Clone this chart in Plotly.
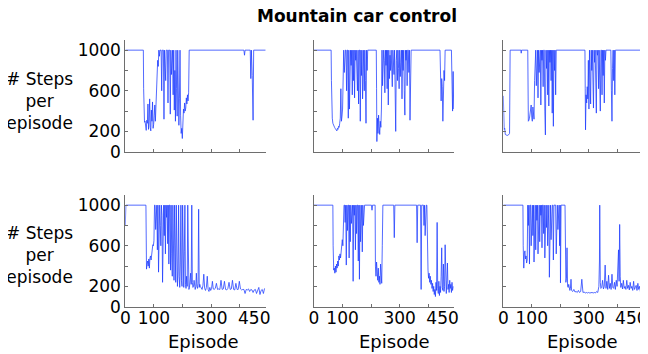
import plotly.graph_objects as go

# Episode / steps-per-episode readings for the six runs
a_ep = [0, 63, 64, 65, 67, 69, 71, 73, 75, 77,
        79, 81, 83, 85, 87, 89, 91, 93, 95, 97,
        99, 101, 103, 105, 107, 109, 111, 113, 115, 117,
        119, 121, 125, 127, 129, 133, 135, 137, 141, 143,
        147, 149, 151, 155, 157, 159, 161, 163, 165, 167,
        169, 171, 173, 175, 177, 179, 181, 183, 185, 187,
        189, 191, 193, 195, 197, 199, 201, 203, 205, 207,
        209, 211, 213, 215, 217, 219, 221, 223, 414, 416,
        418, 436, 438, 440, 443, 446, 448, 490]
a_steps = [1000, 1000, 620, 320, 290, 300, 270, 210, 310, 280,
           470, 220, 300, 520, 240, 205, 410, 300, 490, 230,
           270, 360, 460, 300, 500, 480, 780, 900, 840, 1000,
           940, 1000, 1000, 600, 1000, 1000, 320, 1000, 700, 1000,
           1000, 480, 1000, 1000, 370, 1000, 760, 1000, 1000, 560,
           1000, 410, 800, 300, 1000, 620, 350, 1000, 700, 260,
           520, 1000, 360, 180, 230, 130, 300, 420, 380, 480,
           400, 430, 530, 470, 560, 500, 580, 1000, 1000, 950,
           1000, 1000, 720, 1000, 750, 310, 1000, 1000]

b_ep = [0, 60, 61, 62, 64, 66, 68, 70, 72, 74,
        76, 78, 80, 82, 84, 86, 88, 90, 92, 94,
        96, 98, 100, 102, 104, 106, 108, 110, 112, 114,
        116, 118, 120, 122, 124, 126, 128, 130, 132, 134,
        136, 138, 140, 142, 144, 146, 148, 150, 152, 154,
        156, 158, 160, 162, 164, 166, 168, 170, 172, 174,
        176, 178, 180, 182, 184, 186, 188, 218, 219, 220,
        222, 224, 226, 228, 230, 232, 234, 236, 238, 240,
        242, 244, 246, 248, 250, 252, 254, 256, 258, 260,
        262, 264, 266, 268, 270, 272, 274, 276, 278, 280,
        282, 284, 286, 288, 290, 292, 294, 296, 298, 300,
        302, 304, 306, 308, 310, 312, 314, 316, 318, 320,
        322, 324, 326, 328, 330, 332, 334, 336, 338, 340,
        441, 443, 445, 447, 449, 451, 453, 455, 457, 459,
        481, 483, 485, 487, 489]
b_steps = [1000, 1000, 700, 460, 330, 280, 260, 250, 240, 230,
           220, 210, 205, 230, 220, 250, 240, 280, 330, 620,
           300, 350, 420, 900, 1000, 780, 1000, 1000, 1000, 600,
           1000, 1000, 330, 1000, 420, 1000, 1000, 850, 1000, 560,
           1000, 700, 1000, 530, 1000, 900, 1000, 780, 600, 1000,
           470, 1000, 1000, 300, 1000, 750, 1000, 520, 1000, 1000,
           600, 1000, 700, 280, 1000, 800, 1000, 1000, 620, 100,
           330, 180, 360, 250, 170, 300, 240, 420, 1000, 650,
           1000, 1000, 900, 580, 1000, 850, 1000, 620, 1000, 460,
           1000, 720, 950, 800, 1000, 880, 640, 1000, 840, 760,
           1000, 560, 200, 900, 1000, 700, 1000, 820, 620, 1000,
           740, 880, 1000, 520, 1000, 800, 1000, 600, 360, 1000,
           900, 1000, 650, 1000, 1000, 780, 1000, 310, 1000, 1000,
           1000, 760, 500, 720, 640, 300, 620, 800, 700, 1000,
           1000, 560, 400, 790, 420]

c_ep = [0, 1, 3, 5, 7, 10, 14, 18, 22, 24,
        62, 63, 64, 86, 87, 88, 90, 92, 94, 96,
        98, 100, 102, 104, 106, 108, 110, 112, 114, 116,
        118, 120, 122, 124, 126, 128, 130, 132, 134, 136,
        138, 140, 142, 144, 146, 148, 150, 152, 154, 156,
        158, 160, 162, 164, 166, 168, 170, 172, 174, 176,
        178, 180, 182, 184, 186, 188, 287, 288, 289, 291,
        293, 295, 297, 299, 301, 303, 305, 307, 309, 311,
        313, 315, 317, 319, 321, 323, 325, 327, 329, 331,
        333, 335, 337, 339, 341, 343, 345, 347, 349, 351,
        353, 355, 357, 359, 361, 378, 380, 382, 384, 386,
        388, 390, 392, 394, 490]
c_steps = [550, 240, 220, 230, 170, 165, 160, 165, 180, 1000,
           1000, 970, 1000, 1000, 620, 300, 310, 330, 380, 420,
           460, 340, 300, 440, 360, 320, 700, 1000, 1000, 650,
           1000, 1000, 530, 1000, 780, 1000, 1000, 460, 1000, 900,
           1000, 640, 1000, 1000, 400, 165, 1000, 820, 1000, 560,
           1000, 450, 1000, 880, 1000, 700, 1000, 380, 1000, 250,
           1000, 800, 1000, 560, 1000, 1000, 1000, 620, 215, 560,
           480, 640, 520, 900, 420, 1000, 700, 470, 1000, 800,
           1000, 600, 430, 1000, 880, 1000, 700, 380, 1000, 950,
           1000, 620, 1000, 800, 400, 1000, 1000, 560, 1000, 750,
           1000, 480, 1000, 900, 1000, 1000, 600, 300, 820, 1000,
           700, 1000, 560, 1000, 1000]

d_ep = [0, 1, 2, 72, 73, 74, 76, 78, 80, 82,
        84, 86, 88, 90, 92, 94, 96, 98, 100, 102,
        104, 106, 108, 110, 112, 114, 116, 118, 120, 122,
        124, 126, 128, 130, 132, 134, 136, 138, 140, 142,
        144, 146, 148, 150, 152, 154, 156, 158, 160, 162,
        164, 166, 168, 170, 172, 174, 176, 178, 180, 182,
        184, 186, 188, 190, 192, 194, 196, 198, 200, 202,
        204, 206, 208, 210, 212, 214, 216, 218, 220, 222,
        224, 226, 228, 230, 232, 234, 236, 238, 240, 242,
        244, 246, 248, 250, 252, 254, 256, 258, 260, 262,
        265, 268, 271, 274, 277, 280, 283, 286, 289, 292,
        295, 298, 301, 304, 307, 310, 314, 318, 322, 326,
        330, 334, 338, 342, 346, 350, 354, 358, 362, 366,
        370, 374, 378, 382, 386, 390, 394, 398, 402, 406,
        410, 414, 418, 422, 426, 430, 434, 438, 442, 446,
        450, 454, 458, 462, 466, 470, 474, 478, 482, 486]
d_steps = [800, 1000, 1000, 1000, 700, 370, 420, 450, 400, 470,
           380, 480, 500, 460, 520, 560, 610, 600, 650, 1000,
           1000, 760, 1000, 1000, 560, 1000, 340, 1000, 1000, 800,
           600, 1000, 900, 240, 1000, 1000, 700, 1000, 520, 1000,
           880, 1000, 620, 1000, 420, 1000, 1000, 360, 1000, 520,
           300, 1000, 720, 260, 1000, 460, 240, 1000, 600, 200,
           350, 1000, 300, 190, 420, 1000, 260, 200, 1000, 230,
           190, 540, 1000, 220, 180, 300, 200, 1000, 260, 170,
           190, 240, 330, 220, 1000, 240, 190, 200, 260, 220,
           170, 200, 330, 200, 180, 230, 960, 190, 220, 200,
           180, 170, 210, 320, 180, 160, 190, 300, 170, 150,
           190, 160, 180, 250, 175, 170, 180, 230, 170, 175,
           170, 260, 170, 175, 250, 170, 165, 180, 240, 170,
           175, 260, 170, 165, 230, 170, 170, 250, 175, 165,
           170, 170, 130, 170, 165, 175, 150, 170, 165, 140,
           165, 170, 130, 165, 190, 120, 160, 170, 130, 180]

e_ep = [0, 66, 67, 69, 71, 73, 75, 77, 79, 81,
        83, 85, 87, 89, 91, 93, 95, 97, 99, 101,
        103, 105, 107, 109, 111, 113, 115, 117, 119, 121,
        123, 125, 127, 129, 131, 133, 135, 137, 139, 141,
        143, 145, 147, 149, 151, 153, 155, 157, 159, 161,
        163, 165, 167, 169, 171, 173, 175, 177, 201, 203,
        205, 214, 215, 217, 219, 221, 223, 225, 227, 229,
        231, 233, 235, 237, 239, 241, 279, 281, 283, 359,
        361, 363, 373, 375, 377, 383, 385, 387, 389, 391,
        393, 395, 397, 399, 401, 403, 405, 407, 409, 411,
        413, 415, 417, 419, 421, 423, 425, 427, 429, 431,
        433, 435, 437, 439, 441, 443, 445, 447, 449, 451,
        453, 455, 457, 459, 461, 463, 465, 467, 469, 471,
        473, 475, 477, 479, 481, 483, 485, 487]
e_steps = [1000, 1000, 600, 360, 380, 330, 400, 340, 420, 380,
           450, 400, 500, 460, 520, 480, 560, 620, 660, 600,
           1000, 1000, 1000, 830, 1000, 410, 1000, 750, 1000, 1000,
           480, 1000, 640, 1000, 820, 1000, 1000, 250, 1000, 900,
           1000, 560, 1000, 720, 1000, 1000, 450, 1000, 270, 1000,
           640, 1000, 1000, 540, 1000, 800, 1000, 1000, 1000, 950,
           1000, 1000, 400, 300, 440, 350, 260, 380, 240, 300,
           220, 420, 300, 230, 600, 1000, 1000, 680, 1000, 1000,
           630, 1000, 1000, 170, 1000, 1000, 800, 1000, 700, 1000,
           1000, 1000, 420, 360, 280, 330, 240, 300, 220, 260,
           180, 230, 150, 200, 120, 170, 100, 240, 160, 830,
           180, 130, 250, 110, 200, 140, 300, 580, 190, 160,
           420, 150, 200, 610, 180, 130, 260, 430, 170, 220,
           140, 260, 180, 220, 140, 240, 160, 200]

f_ep = [0, 69, 70, 72, 74, 76, 78, 80, 82, 84,
        86, 88, 90, 92, 94, 96, 98, 100, 102, 104,
        106, 108, 110, 112, 114, 116, 118, 120, 122, 124,
        126, 128, 130, 132, 134, 136, 138, 140, 142, 144,
        146, 148, 150, 152, 154, 156, 158, 160, 162, 164,
        166, 168, 170, 172, 174, 176, 178, 180, 182, 184,
        186, 188, 190, 192, 194, 196, 198, 200, 201, 203,
        217, 218, 220, 222, 224, 226, 228, 230, 232, 234,
        236, 238, 240, 244, 248, 252, 256, 260, 264, 268,
        272, 276, 280, 284, 288, 292, 296, 300, 304, 308,
        312, 316, 320, 324, 328, 332, 334, 336, 338, 339,
        341, 343, 346, 349, 352, 355, 358, 361, 364, 367,
        370, 373, 376, 379, 382, 385, 388, 391, 394, 397,
        400, 403, 405, 407, 409, 411, 413, 416, 419, 422,
        425, 428, 431, 434, 437, 440, 443, 446, 449, 452,
        455, 458, 461, 464, 467, 470, 473, 476, 479, 482,
        485, 487]
f_steps = [1000, 1000, 600, 380, 520, 550, 470, 500, 430, 460,
           1000, 800, 1000, 420, 1000, 1000, 600, 1000, 1000, 700,
           1000, 440, 1000, 1000, 560, 1000, 850, 1000, 520, 1000,
           1000, 640, 1000, 900, 1000, 580, 1000, 1000, 720, 1000,
           480, 1000, 1000, 780, 1000, 600, 1000, 1000, 290, 1000,
           1000, 660, 1000, 1000, 1000, 460, 1000, 1000, 1000, 1000,
           520, 1000, 1000, 760, 1000, 1000, 600, 1000, 235, 1000,
           1000, 300, 240, 280, 580, 200, 190, 220, 170, 160,
           180, 270, 160, 150, 170, 145, 150, 140, 160, 140,
           150, 270, 140, 145, 135, 140, 135, 140, 135, 140,
           140, 135, 140, 135, 150, 140, 160, 200, 450, 1000,
           240, 180, 190, 260, 175, 200, 410, 180, 250, 170,
           310, 180, 230, 170, 320, 190, 180, 240, 170, 260,
           200, 350, 560, 250, 810, 300, 190, 230, 175, 260,
           180, 200, 170, 260, 180, 210, 165, 240, 180, 200,
           160, 250, 170, 190, 210, 160, 230, 170, 200, 150,
           190, 360]

x_tickvals = [0, 100, 300, 450]
x_ticktext = ["0", "100", "300", "450"]
y_tickvals = [0, 200, 600, 1000]
y_ticktext = ["0", "200", "600", "1000"]

runs = [(a_ep, a_steps), (b_ep, b_steps), (c_ep, c_steps),
        (d_ep, d_steps), (e_ep, e_steps), (f_ep, f_steps)]
for ep, st in runs:
    assert len(ep) == len(st), (len(ep), len(st))

# the page body has an 8px margin: the figure starts 8px in, so size it to the
# visible rest of the window and give positions in window pixels
OFF = 8
W, H = 648 - OFF, 354 - OFF


def fx(px):
    return (px - OFF) / W


def fy(py):
    return 1 - (py - OFF) / H


col_px = [(125.3, 265.7), (314.0, 454.0), (503.3, 642.7)]
row_px = [(40.0, 151.7), (195.0, 306.7)]
font = "DejaVu Sans"
axis_col = "#6e6e6e"

fig = go.Figure()
layout = {}
for i, (ep, st) in enumerate(runs):
    r, c = divmod(i, 3)
    n = "" if i == 0 else str(i + 1)
    fig.add_trace(go.Scatter(
        x=ep, y=st, mode="lines",
        line=dict(color="rgba(30,60,255,0.85)", width=0.9),
        xaxis="x" + n, yaxis="y" + n, showlegend=False, hoverinfo="skip",
        cliponaxis=False
    ))
    layout["xaxis" + n] = dict(
        domain=[fx(col_px[c][0]), fx(col_px[c][1])],
        anchor="y" + n, range=[0, 490], automargin=False,
        showline=True, linecolor=axis_col, linewidth=1,
        showgrid=False, zeroline=False, ticks="",
        tickmode="array", tickvals=x_tickvals, ticktext=x_ticktext,
        showticklabels=(r == 1), ticklabelstandoff=-4,
        tickfont=dict(family=font, size=17, color="black"),
        minor=dict(ticks="inside", tickmode="array", tickvals=[100, 200, 300, 400],
                   ticklen=3, tickcolor=axis_col, showgrid=False),
    )
    layout["yaxis" + n] = dict(
        domain=[fy(row_px[r][1]), fy(row_px[r][0])],
        anchor="x" + n, range=[0, 1100], automargin=False,
        showline=True, linecolor=axis_col, linewidth=1,
        showgrid=False, zeroline=False, ticks="",
        tickmode="array", tickvals=y_tickvals, ticktext=y_ticktext,
        showticklabels=(c == 0),
        tickfont=dict(family=font, size=17, color="black"),
        minor=dict(ticks="inside", tickmode="array", tickvals=[200, 400, 600, 800, 1000],
                   ticklen=3, tickcolor=axis_col, showgrid=False),
    )

annotations = [dict(text="<b>Mountain car control</b>", x=fx(356.5), y=fy(16),
                    xref="paper", yref="paper", showarrow=False,
                    xanchor="center", yanchor="middle",
                    font=dict(family=font, size=17, color="black"))]
for yc in (101, 255):
    annotations.append(dict(text="# Steps<br>per<br>episode", x=fx(39), y=fy(yc),
                            xref="paper", yref="paper", showarrow=False, align="center",
                            xanchor="center", yanchor="middle",
                            font=dict(family=font, size=17, color="black")))
for xc in (203.5, 394, 582.5):
    annotations.append(dict(text="Episode", x=fx(xc), y=fy(341),
                            xref="paper", yref="paper", showarrow=False,
                            xanchor="center", yanchor="middle",
                            font=dict(family=font, size=18, color="black")))

fig.update_layout(
    width=W, height=H, autosize=False,
    margin=dict(l=0, r=0, t=0, b=0, pad=0, autoexpand=False),
    paper_bgcolor="white", plot_bgcolor="white",
    showlegend=False,
    annotations=annotations,
    **layout
)

fig.write_html("out.html")
